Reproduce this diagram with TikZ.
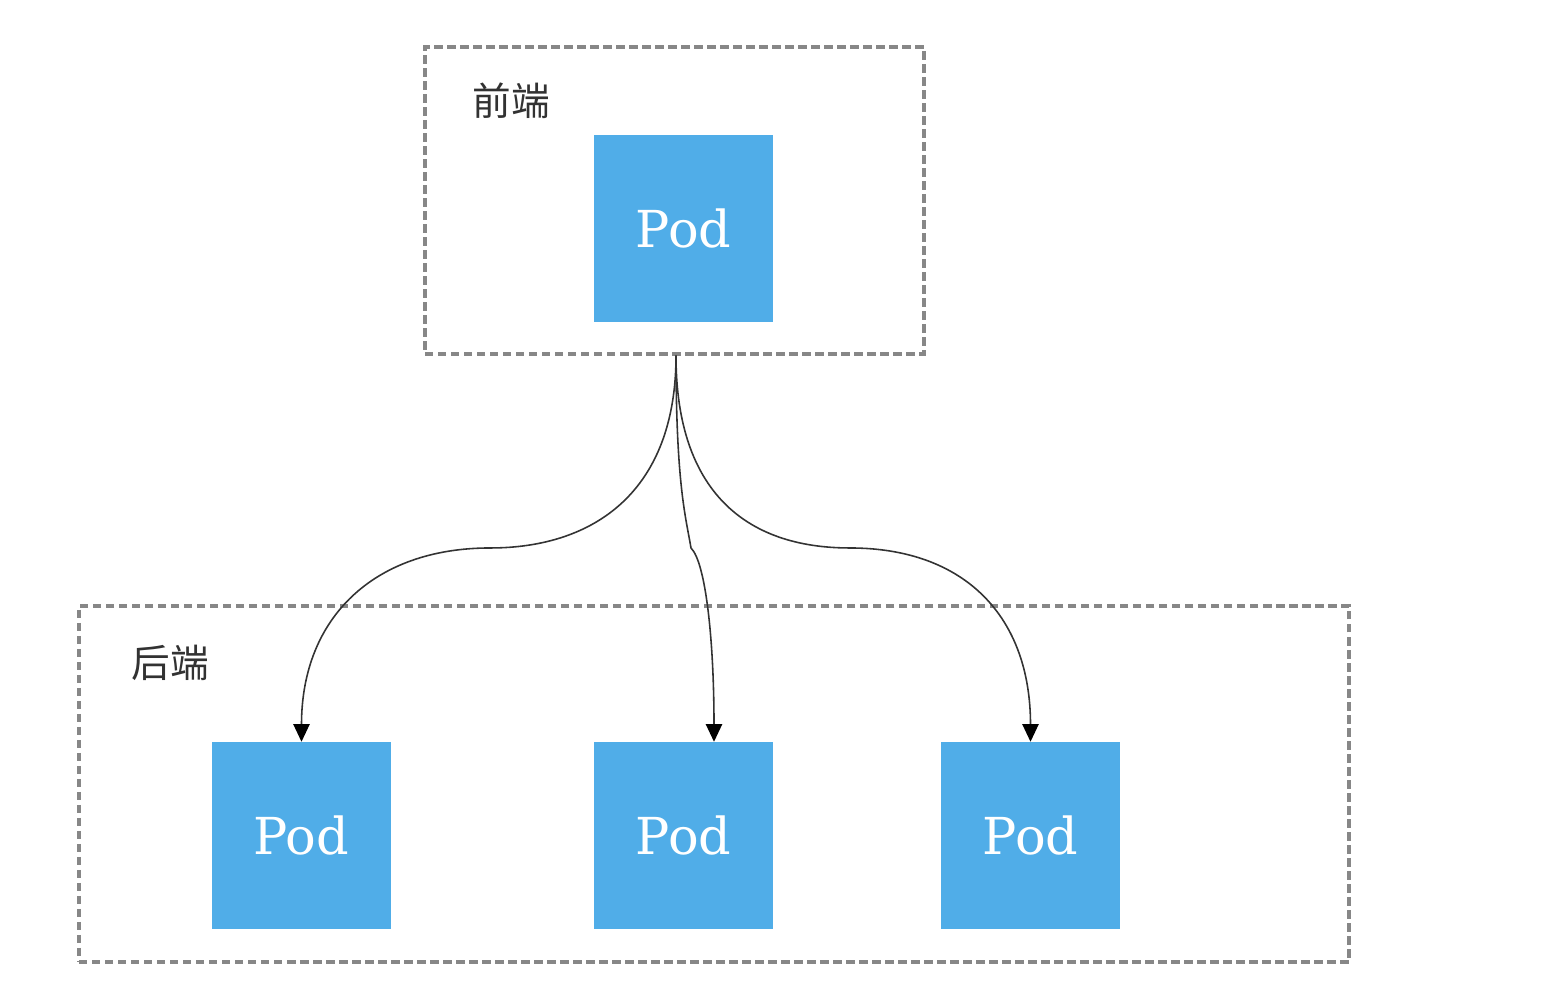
\documentclass[tikz,border=0pt]{standalone}
\usepackage{fontspec}
\setmainfont{DejaVu Serif}
\newfontfamily\cjk{Noto Sans CJK SC}
\usetikzlibrary{arrows.meta}
\definecolor{podblue}{RGB}{80,173,232}
\definecolor{boxgray}{RGB}{135,135,135}
\definecolor{labelgray}{RGB}{50,50,50}
\begin{document}
\begin{tikzpicture}[
    group/.style={draw=boxgray,line width=1pt,dash pattern=on 2.4pt off 1.3pt,inner sep=0pt},
    pod/.style={fill=podblue,text=white,inner sep=0pt,minimum width=1.79cm,minimum height=1.87cm,font=\fontsize{14.5}{16}\selectfont},
    grouplabel/.style={text=labelgray,font=\cjk\fontsize{11}{13}\selectfont},
    link/.style={draw=black!80,line width=0.45pt,-{Triangle[length=5pt,width=4.6pt,color=black]}}]
    \useasboundingbox (0,0) rectangle (15.56,10);
    % frontend group
    \node[group,minimum width=4.99cm,minimum height=3.07cm] (front) at (6.745,7.995) {};
    \node[grouplabel] (frontlabel) at (5.11,8.99) {前端};
    \node[pod] (frontpod) at (6.835,7.715) {Pod};
    % backend group
    \node[group,minimum width=12.70cm,minimum height=3.56cm] (back) at (7.14,2.16) {};
    \node[grouplabel] (backlabel) at (1.70,3.37) {后端};
    \node[pod] (podA) at (3.015,1.64) {Pod};
    \node[pod] (podB) at (6.835,1.64) {Pod};
    \node[pod] (podC) at (10.305,1.64) {Pod};
    % bends of the connectors
    \coordinate (bendA) at (4.90,4.52);
    \coordinate (bendB) at (6.91,4.52);
    \coordinate (bendC) at (8.50,4.52);
    \coordinate (inB) at ([xshift=0.305cm]podB.north);
    \draw[link] ([xshift=0.015cm]front.south) .. controls +(0,-1.35) and +(1.05,0) .. (bendA)
        .. controls +(-1.15,0) and +(0,1.25) .. (podA.north);
    \draw[link] ([xshift=0.015cm]front.south) .. controls +(0,-1.3) and +(-0.05,0.3) .. (bendB)
        .. controls +(0.15,-0.15) and +(0,1.0) .. (inB);
    \draw[link] ([xshift=0.015cm]front.south) .. controls +(0,-1.35) and +(-1.05,0) .. (bendC)
        .. controls +(1.15,0) and +(0,1.25) .. (podC.north);
\end{tikzpicture}
\end{document}
